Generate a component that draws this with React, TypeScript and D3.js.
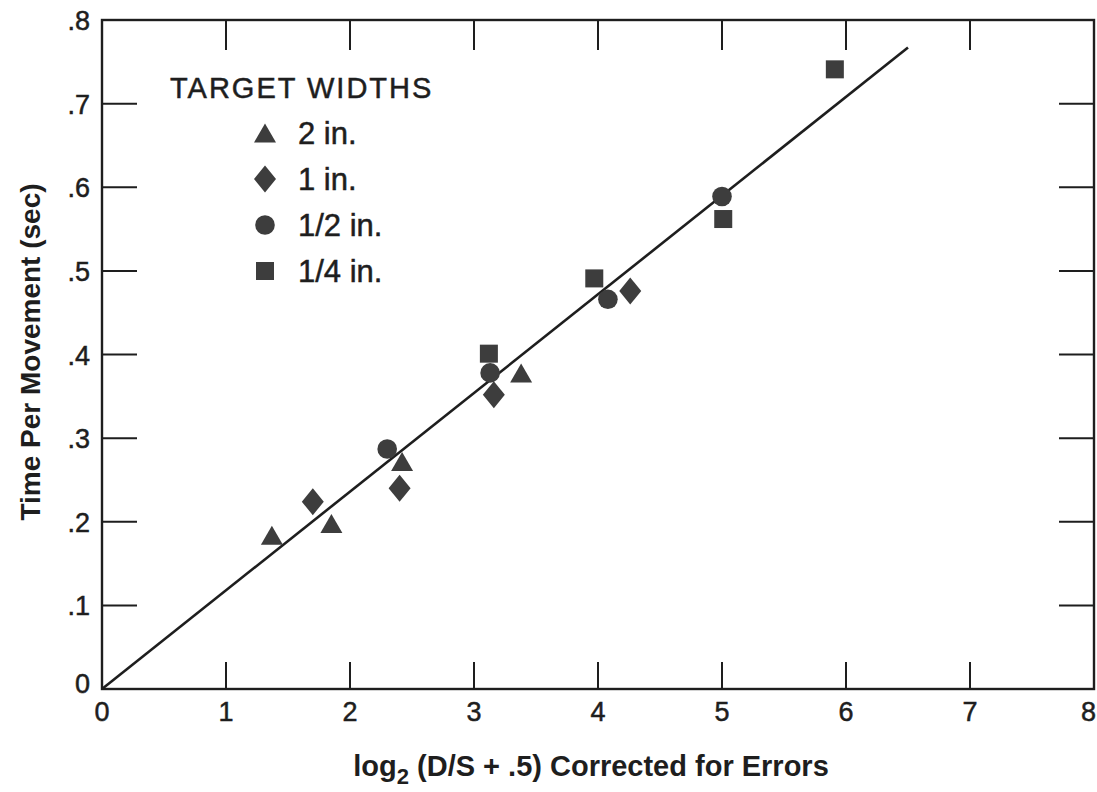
import React from "react";
import * as d3 from "d3";

// ---- data ----
const triangles2in = [
  { x: 1.37, y: 0.184 },
  { x: 1.85, y: 0.198 },
  { x: 2.42, y: 0.272 },
  { x: 3.38, y: 0.378 },
];
const diamonds1in = [
  { x: 1.7, y: 0.224 },
  { x: 2.4, y: 0.24 },
  { x: 3.16, y: 0.352 },
  { x: 4.26, y: 0.476 },
];
const circlesHalfIn = [
  { x: 2.3, y: 0.287 },
  { x: 3.13, y: 0.378 },
  { x: 4.08, y: 0.466 },
  { x: 5.0, y: 0.589 },
];
const squaresQuarterIn = [
  { x: 3.12, y: 0.401 },
  { x: 3.97, y: 0.491 },
  { x: 5.01, y: 0.562 },
  { x: 5.91, y: 0.741 },
];
const fitLine = [
  { x: 0, y: 0 },
  { x: 6.5, y: 0.767 },
];
const xTicks = [0, 1, 2, 3, 4, 5, 6, 7, 8];
const yTicks = [0, 0.1, 0.2, 0.3, 0.4, 0.5, 0.6, 0.7, 0.8];
const yTickLabels = ["0", ".1", ".2", ".3", ".4", ".5", ".6", ".7", ".8"];
const legendLabels = ["2 in.", "1 in.", "1/2 in.", "1/4 in."];
const legendTitle = "TARGET WIDTHS";

const W = 1097;
const H = 792;
const FONT = "'Liberation Sans', Arial, Helvetica, sans-serif";
const INK = "#1e1e1e";
const FILL = "#3d3d3d";

type Shape = "tri" | "dia" | "cir" | "sq";

function Marker({ shape, cx, cy }: { shape: Shape; cx: number; cy: number }) {
  if (shape === "tri") {
    const w = 22, h = 19;
    const p = `M${cx - w / 2},${cy + h / 2}L${cx + w / 2},${cy + h / 2}L${cx},${cy - h / 2}Z`;
    return <path d={p} fill={FILL} />;
  }
  if (shape === "dia") {
    const w = 22, h = 27;
    const p = `M${cx},${cy - h / 2}L${cx + w / 2},${cy}L${cx},${cy + h / 2}L${cx - w / 2},${cy}Z`;
    return <path d={p} fill={FILL} />;
  }
  if (shape === "cir") {
    return <circle cx={cx} cy={cy} r={9.8} fill={FILL} />;
  }
  return <rect x={cx - 9} y={cy - 9} width={18} height={18} fill={FILL} />;
}

export default function App() {
  const x = d3.scaleLinear().domain([0, 8]).range([102, 1094]);
  const y = d3.scaleLinear().domain([0, 0.8]).range([689, 20]);

  const line = d3
    .line<{ x: number; y: number }>()
    .x((d) => x(d.x))
    .y((d) => y(d.y));

  const series: { shape: Shape; data: { x: number; y: number }[] }[] = [
    { shape: "tri", data: triangles2in },
    { shape: "dia", data: diamonds1in },
    { shape: "cir", data: circlesHalfIn },
    { shape: "sq", data: squaresQuarterIn },
  ];

  const x0 = x(0), x1 = x(8), y0 = y(0), y1 = y(0.8);
  const labelStroke = { stroke: INK, strokeWidth: 0.5 };

  return (
    <svg
      width={W}
      height={H}
      style={{ position: "absolute", left: 0, top: 0, background: "#fff" }}
      fontFamily={FONT}
    >
      <rect x={0} y={0} width={W} height={H} fill="#fff" />
      {/* frame */}
      <rect x={x0} y={y1} width={x1 - x0} height={y0 - y1} fill="none" stroke={INK} strokeWidth={2.4} />
      {/* x ticks: bottom & top */}
      {xTicks.slice(1, -1).map((t) => (
        <g key={"xt" + t}>
          <line x1={x(t)} x2={x(t)} y1={y0} y2={y0 - 27} stroke={INK} strokeWidth={2} />
          <line x1={x(t)} x2={x(t)} y1={y1} y2={y1 + 30} stroke={INK} strokeWidth={2} />
        </g>
      ))}
      {/* y ticks: left & right */}
      {yTicks.slice(1, -1).map((t) => (
        <g key={"yt" + t}>
          <line x1={x0} x2={x0 + 35} y1={y(t)} y2={y(t)} stroke={INK} strokeWidth={2} />
          <line x1={x1} x2={x1 - 35} y1={y(t)} y2={y(t)} stroke={INK} strokeWidth={2} />
        </g>
      ))}
      {/* x tick labels */}
      {xTicks.map((t, i) => {
        const last = i === xTicks.length - 1;
        return (
          <text
            key={"xl" + t}
            x={last ? W - 1 : x(t)}
            y={721}
            textAnchor={last ? "end" : "middle"}
            fontSize={27}
            fill={INK}
            {...labelStroke}
          >
            {t}
          </text>
        );
      })}
      {/* y tick labels */}
      {yTicks.map((t, i) => (
        <text
          key={"yl" + t}
          x={90}
          y={y(t) + (i === 0 ? 4 : 10)}
          textAnchor="end"
          fontSize={27}
          fill={INK}
          {...labelStroke}
        >
          {yTickLabels[i]}
        </text>
      ))}
      {/* axis titles */}
      <text x={591} y={776} textAnchor="middle" fontSize={29} fontWeight="bold" fill={INK}>
        log<tspan fontSize={22} dy={8}>2</tspan>
        <tspan dy={-8}>{"  (D/S + .5) Corrected for Errors"}</tspan>
      </text>
      <text
        transform={`translate(40,352) rotate(-90)`}
        textAnchor="middle"
        fontSize={28}
        fontWeight="bold"
        fill={INK}
      >
        Time Per Movement (sec)
      </text>
      {/* fit line */}
      <path d={line(fitLine) || ""} fill="none" stroke={INK} strokeWidth={2.6} />
      {/* markers */}
      {series.map((s) =>
        s.data.map((d, i) => (
          <Marker key={s.shape + i} shape={s.shape} cx={x(d.x)} cy={y(d.y)} />
        ))
      )}
      {/* legend */}
      <text x={170} y={98} fontSize={29} fill={INK} letterSpacing={2} {...labelStroke}>
        {legendTitle}
      </text>
      {series.map((s, i) => (
        <g key={"lg" + i}>
          <Marker shape={s.shape} cx={265} cy={133 + i * 46} />
          <text x={298} y={133 + i * 46 + 11} fontSize={31} fill={INK} {...labelStroke}>
            {legendLabels[i]}
          </text>
        </g>
      ))}
    </svg>
  );
}
